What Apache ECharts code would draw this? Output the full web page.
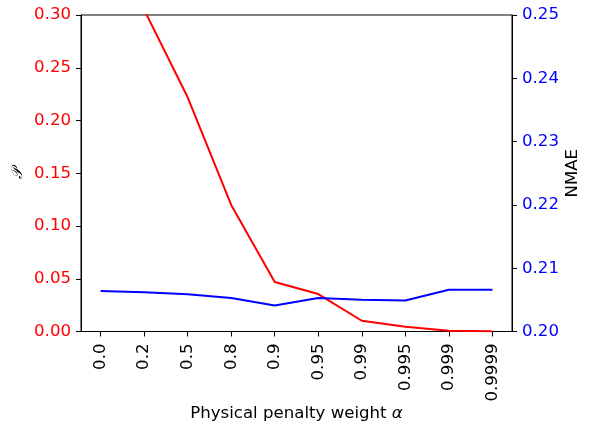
<!DOCTYPE html>
<html>
<head>
<meta charset="utf-8">
<script src="https://cdn.jsdelivr.net/npm/echarts@6/dist/echarts.min.js"></script>
<style>html,body{margin:0;padding:0;background:#fff}#c{width:598px;height:423px}</style>
</head>
<body>
<div id="c"></div>
<script>
const categories = ['0.0','0.2','0.5','0.8','0.9','0.95','0.99','0.995','0.999','0.9999'];
const penaltyP = [0.45, 0.305, 0.222, 0.120, 0.047, 0.0355, 0.0102, 0.0046, 0.0008, 0.0002];
const nmae = [0.2064, 0.2062, 0.2059, 0.2053, 0.2041, 0.2053, 0.2050, 0.2049, 0.2066, 0.2066];
const leftTicks = [0, 0.05, 0.10, 0.15, 0.20, 0.25, 0.30];
const rightTicks = [0.20, 0.21, 0.22, 0.23, 0.24, 0.25];

const idx = categories.map((_, i) => i);
const font = 'DejaVu Sans';
const fs = 16.6;
const chart = echarts.init(document.getElementById('c'), null, {renderer: 'canvas'});
chart.setOption({
  animation: false,
  backgroundColor: '#fff',
  grid: {left: 81, top: 15, right: 86, bottom: 91.5, containLabel: false, outerBoundsMode: 'none',
    show: true, borderColor: '#000', borderWidth: 1, backgroundColor: 'transparent'},
  xAxis: {
    type: 'value', min: -0.45, max: 9.45,
    name: 'Physical penalty weight {a|α}', nameLocation: 'middle', nameGap: 74, nameMoveOverlap: false,
    nameTextStyle: {color: '#000', fontSize: fs, fontFamily: font,
      rich: {a: {fontSize: fs, fontFamily: font, fontStyle: 'italic', color: '#000'}}},
    axisLine: {show: true, onZero: false, lineStyle: {color: '#000', width: 1}},
    axisTick: {show: true, length: 5, lineStyle: {color: '#000', width: 1}, customValues: idx},
    axisLabel: {show: true, rotate: 90, margin: 12, color: '#000', fontSize: fs, fontFamily: font,
      customValues: idx, formatter: v => categories[Math.round(v)]},
    splitLine: {show: false}
  },
  yAxis: [{
    type: 'value', min: 0, max: 0.30, interval: 0.05, position: 'left',
    name: '𝒫', nameLocation: 'middle', nameGap: 55, nameRotate: 90, nameMoveOverlap: false,
    nameTextStyle: {color: '#000', fontSize: 15, fontFamily: 'DejaVu Serif', fontStyle: 'italic'},
    axisLine: {show: true, onZero: false, lineStyle: {color: '#000', width: 1}},
    axisTick: {show: true, length: 5, lineStyle: {color: '#000', width: 1}},
    axisLabel: {margin: 10, color: '#ff0000', fontSize: fs, fontFamily: font, formatter: v => v.toFixed(2)},
    splitLine: {show: false}
  }, {
    type: 'value', min: 0.20, max: 0.25, interval: 0.01, position: 'right',
    name: 'NMAE', nameLocation: 'middle', nameGap: 52, nameRotate: 90, nameMoveOverlap: false,
    nameTextStyle: {color: '#000', fontSize: fs, fontFamily: font},
    axisLine: {show: true, onZero: false, lineStyle: {color: '#000', width: 1}},
    axisTick: {show: true, length: 5, lineStyle: {color: '#000', width: 1}},
    axisLabel: {margin: 10, color: '#0000ff', fontSize: fs, fontFamily: font, formatter: v => v.toFixed(2)},
    splitLine: {show: false}
  }],
  series: [{
    type: 'line', yAxisIndex: 0, clip: true, showSymbol: false, symbol: 'none',
    lineStyle: {color: '#ff0000', width: 2}, itemStyle: {color: '#ff0000'},
    data: penaltyP.map((v, i) => [i, v])
  }, {
    type: 'line', yAxisIndex: 1, clip: true, showSymbol: false, symbol: 'none',
    lineStyle: {color: '#0000ff', width: 2}, itemStyle: {color: '#0000ff'},
    data: nmae.map((v, i) => [i, v])
  }]
});
</script>
</body>
</html>
